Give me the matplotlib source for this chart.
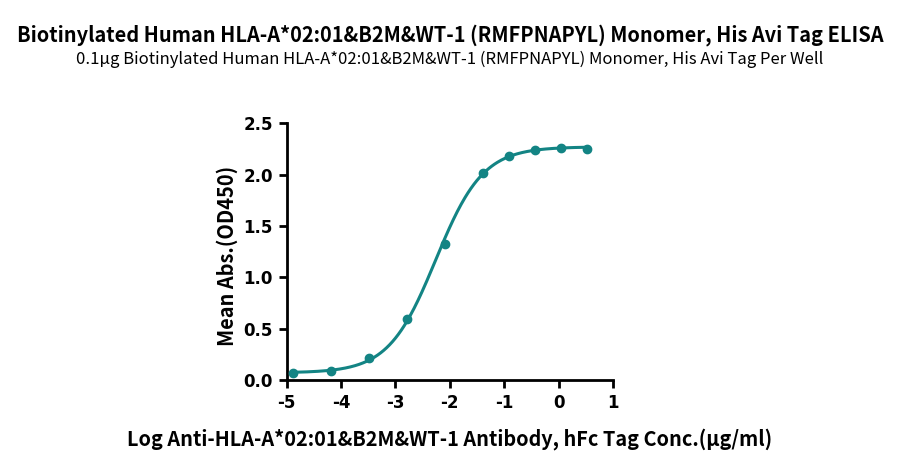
import numpy as np
import matplotlib
matplotlib.use("Agg")
import matplotlib.pyplot as plt

#-------------------------------------------------------------------------------
# Data
log_conc = [-4.88, -4.18, -3.48, -2.78, -2.09, -1.39, -0.91, -0.43, 0.05, 0.52]
od450    = [0.065, 0.09, 0.215, 0.59, 1.32, 2.02, 2.18, 2.235, 2.255, 2.25]

# 4PL fit parameters (estimated)
fit_bottom = 0.07
fit_top    = 2.27
fit_ec50   = -2.26
fit_hill   = 1.0

x_ticks = [-5, -4, -3, -2, -1, 0, 1]
y_ticks = [0.0, 0.5, 1.0, 1.5, 2.0, 2.5]

title    = "Biotinylated Human HLA-A*02:01&B2M&WT-1 (RMFPNAPYL) Monomer, His Avi Tag ELISA"
subtitle = "0.1µg Biotinylated Human HLA-A*02:01&B2M&WT-1 (RMFPNAPYL) Monomer, His Avi Tag Per Well"
x_label  = "Log Anti-HLA-A*02:01&B2M&WT-1 Antibody, hFc Tag Conc.(µg/ml)"
y_label  = "Mean Abs.(OD450)"
#-------------------------------------------------------------------------------

TEAL = "#138484"
CJK  = ["Noto Sans CJK SC", "DejaVu Sans"]

def four_pl(x):
    return fit_bottom + (fit_top - fit_bottom) / (1 + 10 ** ((fit_ec50 - x) * fit_hill))

fig = plt.figure(figsize=(9, 4.66), dpi=100)
ax  = fig.add_axes([0.3186, 0.1845, 0.3625, 0.551])

xs = np.linspace(log_conc[0], log_conc[-1], 300)
ax.plot(xs, four_pl(xs), color=TEAL, lw=2.2, zorder=2)
ax.scatter(log_conc, od450, color=TEAL, s=36, zorder=3, clip_on=False)

ax.set_xlim(-5, 1)
ax.set_ylim(0, 2.5)
ax.set_xticks(x_ticks)
ax.set_yticks(y_ticks)
ax.set_xticklabels([str(t) for t in x_ticks], fontsize=12, fontweight="bold")
ax.set_yticklabels([f"{t:.1f}" for t in y_ticks], fontsize=12, fontweight="bold")

for s in ["top", "right"]:
    ax.spines[s].set_visible(False)
for s in ["left", "bottom"]:
    ax.spines[s].set_linewidth(2)
ax.tick_params(width=2, length=6, direction="out", pad=4)

ax.set_ylabel(y_label, fontsize=14.4, fontweight="black", family=CJK)
ax.yaxis.set_label_coords(-0.15, 0.485)
fig.text(0.5, 0.045, x_label, ha="center", fontsize=14.3, fontweight="bold", family=CJK)

fig.text(0.5, 0.912, title, ha="center", fontsize=14.4, fontweight="bold", family=CJK)
fig.text(0.5, 0.862, subtitle, ha="center", fontsize=12, family=CJK)

fig.savefig("out.png", dpi=100)
